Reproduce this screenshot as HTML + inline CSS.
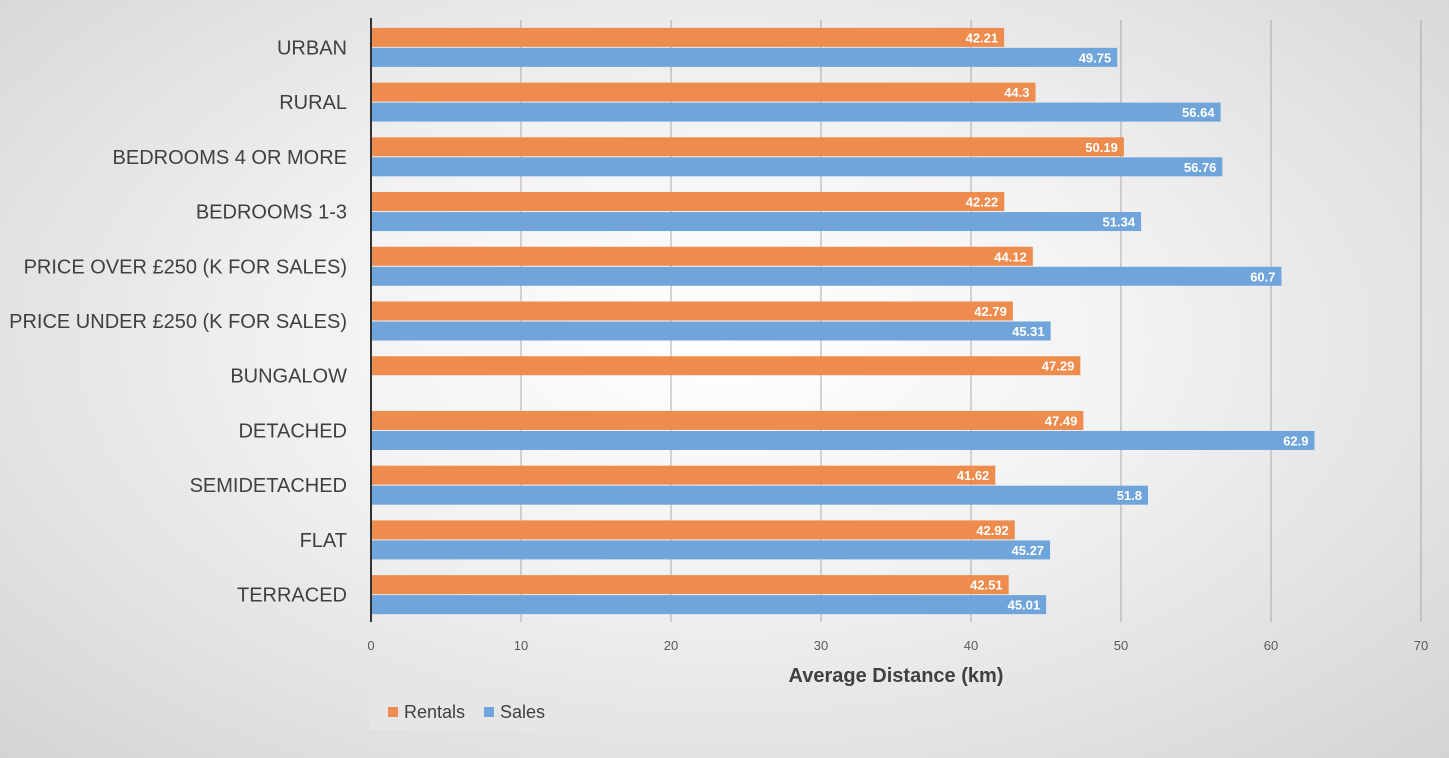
<!DOCTYPE html>
<html><head><meta charset="utf-8"><style>
html,body{margin:0;padding:0;width:1449px;height:758px;overflow:hidden}
body{background:radial-gradient(ellipse at 50% 45%,#ffffff 0%,#f2f2f2 40%,#d4d4d4 100%);font-family:"Liberation Sans",sans-serif}
svg{position:absolute;left:0;top:0}
</style></head><body>
<svg id="chart" width="1449" height="758"></svg>
<script>
const categories=["URBAN","RURAL","BEDROOMS 4 OR MORE","BEDROOMS 1-3","PRICE OVER £250 (K FOR SALES)","PRICE UNDER £250 (K FOR SALES)","BUNGALOW","DETACHED","SEMIDETACHED","FLAT","TERRACED"];
const rentals=[42.21,44.3,50.19,42.22,44.12,42.79,47.29,47.49,41.62,42.92,42.51];
const sales=[49.75,56.64,56.76,51.34,60.7,45.31,null,62.9,51.8,45.27,45.01];
const ticks=[0,10,20,30,40,50,60,70];
const NS="http://www.w3.org/2000/svg";
const svg=document.getElementById('chart');
const x0=371,x1=1421,yTop=20,yBottom=622;
const xs=v=>x0+(v-0)/70*(x1-x0);
const band=(yBottom-yTop)/categories.length;
const yb=i=>yTop+i*band;
function mk(t,a,p){const e=document.createElementNS(NS,t);for(const k in a)e.setAttribute(k,a[k]);(p||svg).appendChild(e);return e;}
ticks.forEach(t=>{
 if(t>0){const l=mk('line',{x1:xs(t),x2:xs(t),y1:yTop,y2:yBottom,stroke:'#999','stroke-width':1,'stroke-opacity':0.8});
 
 }
 const tx=mk('text',{x:xs(t),y:650,'text-anchor':'middle','font-size':13,fill:'#595959'});tx.textContent=t;
 
 
});
const bh=20;
categories.forEach((c,i)=>{
 const cy=yb(i)+band/2;
 const lab=mk('text',{x:347,y:cy+7,'text-anchor':'end','font-size':20,fill:'#404040'});lab.textContent=c;
 
 
 [[rentals[i],'#ee8c4e',cy-bh,'rentals'],[sales[i],'#6fa5da',cy,'sales']].forEach(([v,col,y,n])=>{
  if(v==null)return;
  const r=mk('rect',{x:xs(0),y:y+0.5,width:xs(v)-xs(0),height:bh-1,fill:col});
  
  
  const t=mk('text',{x:xs(v)-6,y:y+bh/2+5,'text-anchor':'end','font-size':13,'font-weight':'bold',fill:'#fff'});t.textContent=v;
  
  
 });
});
const ax=mk('line',{x1:x0,x2:x0,y1:yTop-2,y2:yBottom,stroke:'#333','stroke-width':2});


const title=mk('text',{x:896,y:682,'text-anchor':'middle','font-size':20,'font-weight':'bold',fill:'#404040'});title.textContent='Average Distance (km)';


const lg=mk('g',{});


mk('rect',{x:369,y:695,width:185,height:35,fill:'#e6e6e6'},lg);
const e1=mk('g',{},lg);


mk('rect',{x:388,y:707,width:10,height:10,fill:'#ee8c4e'},e1);
const t1=mk('text',{x:404,y:718,'font-size':18,fill:'#404040'},e1);t1.textContent='Rentals';
const e2=mk('g',{},lg);


mk('rect',{x:484,y:707,width:10,height:10,fill:'#6fa5da'},e2);
const t2=mk('text',{x:500,y:718,'font-size':18,fill:'#404040'},e2);t2.textContent='Sales';
</script>
</body></html>
